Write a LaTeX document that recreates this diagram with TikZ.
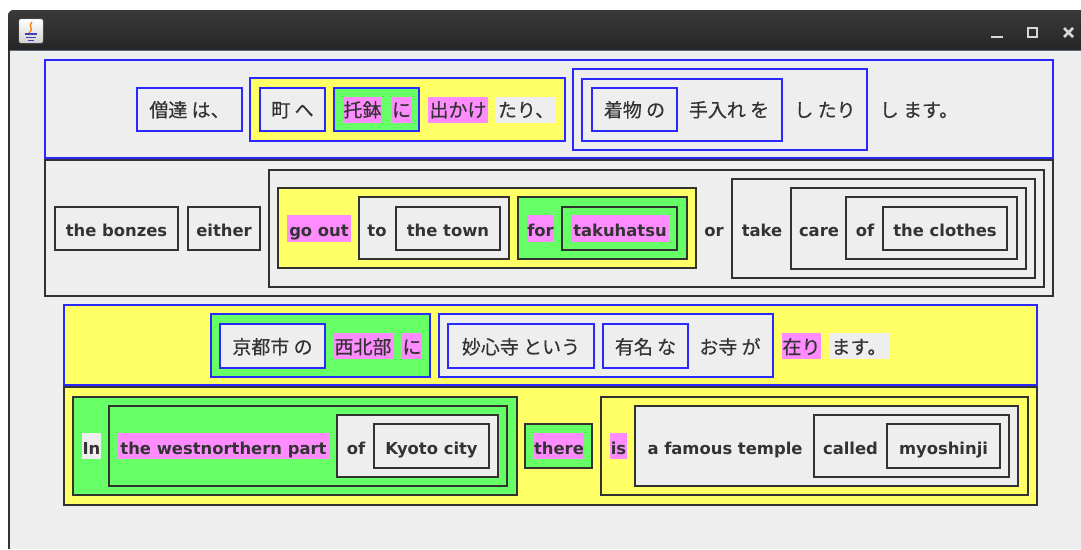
\documentclass[tikz,border=0pt]{standalone}
\usepackage{fontspec}
\newfontfamily\enfont{DejaVu Sans}
\newfontfamily\jpfont{Noto Sans CJK JP}[FakeBold=0.4]
\definecolor{jblue}{RGB}{40,40,255}
\definecolor{jdark}{RGB}{50,50,50}
\definecolor{jyel}{RGB}{255,255,102}
\definecolor{jgrn}{RGB}{102,255,102}
\definecolor{jpink}{RGB}{255,140,255}
\definecolor{jgray}{RGB}{238,238,238}
\definecolor{jtxt}{RGB}{51,51,51}
\definecolor{tbtop}{RGB}{58,58,58}
\definecolor{tbbot}{RGB}{28,28,28}
\definecolor{btn}{RGB}{215,215,215}
\tikzset{
  bbox/.style={draw=jblue, line width=1.6pt},
  dbox/.style={draw=jdark, line width=1.6pt},
  en/.style={anchor=base, inner sep=0pt, text=jtxt, font=\enfont\bfseries\fontsize{16.4}{20}\selectfont},
  jp/.style={anchor=base, inner sep=0pt, text=jtxt, font=\jpfont\fontsize{19}{22}\selectfont},
}
\begin{document}
\begin{tikzpicture}[x=1pt,y=-1pt]
\useasboundingbox (0,0) rectangle (1081,549);
\fill[white] (0,0) rectangle (1081,549);
% window title bar
\fill[rounded corners=6pt, top color=tbtop, bottom color=tbbot] (8,70) -- (8,10) -- (1095,10) -- (1095,70) -- cycle;
\fill[jgray] (8,50) rectangle (1081,549);
\draw[line width=1pt, color={rgb,255:red,90;green,105;blue,125}] (8,50) -- (1081,50);
\draw[line width=1.5pt, black!80] (9,50) -- (9,549);
% java icon
\fill[rounded corners=2pt, top color=white, bottom color=gray!35] (19,19) rectangle (43,43);
\draw[rounded corners=2pt, gray!60] (19,19) rectangle (43,43);
\draw[orange, line width=1.3pt] (32,22) .. controls (27,26) and (35,28) .. (29,33);
\draw[blue!50!gray, line width=1.3pt] (25,34) -- (37,34) (26,37.5) -- (36,37.5) (28,40.5) -- (34,40.5);
% window buttons
\draw[btn, line width=2.6pt] (991,37) -- (1003,37);
\draw[btn, line width=2pt] (1028,28) rectangle (1037,37);
\draw[btn, line width=2.6pt] (1064,28) -- (1073,37) (1064,37) -- (1073,28);

% ===== Row 1 =====
\filldraw[bbox, fill=jgray] (45,60) rectangle (1053,158);
\filldraw[bbox, fill=jgray] (137,88) rectangle (242,131);
\filldraw[bbox, fill=jyel] (250,78) rectangle (565,141);
\filldraw[bbox, fill=jgray] (260,88) rectangle (325,131);
\filldraw[bbox, fill=jgrn] (334,88) rectangle (419,131);
\fill[jpink] (343,97) rectangle (382,123);
\fill[jpink] (392,97) rectangle (411,123);
\fill[jpink] (428,97) rectangle (488,123);
\fill[jgray] (496,97) rectangle (556,123);
\draw[bbox] (573,69) rectangle (867,150);
\draw[bbox] (582,79) rectangle (782,141);
\draw[bbox] (592,88) rectangle (677,131);
\node[jp] (a1) at (189.5,117) {僧達 は、};
\node[jp] (a2) at (292.5,117) {町 へ};
\node[jp] (a3) at (362.5,117) {托鉢};
\node[jp] (a4) at (401.5,117) {に};
\node[jp] (a5) at (458,117) {出かけ};
\node[jp] (a6) at (526,117) {たり、};
\node[jp] (a7) at (634.5,117) {着物 の};
\node[jp] (a8) at (729,117) {手入れ を};
\node[jp] (a9) at (825,117) {し たり};
\node[jp] (a10) at (919,117) {し ます。};

% ===== Row 2 =====
\draw[dbox] (45,160) rectangle (1053,296);
\draw[dbox] (55,207) rectangle (178,250);
\draw[dbox] (188,207) rectangle (260,250);
\draw[dbox] (269,170) rectangle (1044,287);
\filldraw[dbox, fill=jyel] (278,188) rectangle (696,268);
\fill[jpink] (287,215) rectangle (351,242);
\filldraw[dbox, fill=jgray] (359,197) rectangle (509,259);
\draw[dbox] (396,207) rectangle (500,250);
\filldraw[dbox, fill=jgrn] (518,197) rectangle (687,259);
\fill[jpink] (527,215) rectangle (554,242);
\draw[dbox] (562,207) rectangle (677,250);
\fill[jpink] (571,215) rectangle (669,242);
\draw[dbox] (732,179) rectangle (1035,278);
\draw[dbox] (791,188) rectangle (1026,269);
\draw[dbox] (846,197) rectangle (1017,259);
\draw[dbox] (883,207) rectangle (1007,250);
\node[en] (b1) at (116.5,236) {the bonzes};
\node[en] (b2) at (224,236) {either};
\node[en] (b3) at (319,236) {go out};
\node[en] (b4) at (377,236) {to};
\node[en] (b5) at (448,236) {the town};
\node[en] (b6) at (540.5,236) {for};
\node[en] (b7) at (620,236) {takuhatsu};
\node[en] (b8) at (714,236) {or};
\node[en] (b9) at (762,236) {take};
\node[en] (b10) at (819,236) {care};
\node[en] (b11) at (865,236) {of};
\node[en] (b12) at (945,236) {the clothes};

% ===== Row 3 =====
\filldraw[bbox, fill=jyel] (64,305) rectangle (1037,385);
\filldraw[bbox, fill=jgrn] (211,314) rectangle (430,377);
\filldraw[bbox, fill=jgray] (220,324) rectangle (325,368);
\fill[jpink] (333,333) rectangle (393,359);
\fill[jpink] (402,333) rectangle (422,359);
\filldraw[bbox, fill=jgray] (439,314) rectangle (773,377);
\draw[bbox] (448,324) rectangle (594,368);
\draw[bbox] (603,324) rectangle (688,368);
\fill[jpink] (782,333) rectangle (821,359);
\fill[jgray] (829,333) rectangle (889,359);
\node[jp] (c1) at (272.5,354) {京都市 の};
\node[jp] (c2) at (363,354) {西北部};
\node[jp] (c3) at (412,354) {に};
\node[jp] (c4) at (521,354) {妙心寺 という};
\node[jp] (c5) at (645.5,354) {有名 な};
\node[jp] (c6) at (730,354) {お寺 が};
\node[jp] (c7) at (801.5,354) {在り};
\node[jp] (c8) at (859,354) {ます。};

% ===== Row 4 =====
\filldraw[dbox, fill=jyel] (64,387) rectangle (1037,505);
\filldraw[dbox, fill=jgrn] (73,397) rectangle (517,495);
\fill[jgray] (82,433) rectangle (101,459);
\draw[dbox] (109,406) rectangle (507,486);
\fill[jpink] (118,433) rectangle (329,459);
\filldraw[dbox, fill=jgray] (337,415) rectangle (498,477);
\draw[dbox] (374,424) rectangle (489,468);
\filldraw[dbox, fill=jgrn] (525,424) rectangle (592,468);
\fill[jpink] (534,433) rectangle (584,459);
\draw[dbox] (601,397) rectangle (1028,495);
\fill[jpink] (610,433) rectangle (627,459);
\filldraw[dbox, fill=jgray] (635,406) rectangle (1018,486);
\draw[dbox] (814,415) rectangle (1009,477);
\draw[dbox] (887,424) rectangle (1000,468);
\node[en] (d1) at (91.5,454) {In};
\node[en] (d2) at (223.5,454) {the westnorthern part};
\node[en] (d3) at (356,454) {of};
\node[en] (d4) at (431.5,454) {Kyoto city};
\node[en] (d5) at (559,454) {there};
\node[en] (d6) at (618.5,454) {is};
\node[en] (d7) at (725,454) {a famous temple};
\node[en] (d8) at (850.5,454) {called};
\node[en] (d9) at (943.5,454) {myoshinji};
\end{tikzpicture}
\end{document}
